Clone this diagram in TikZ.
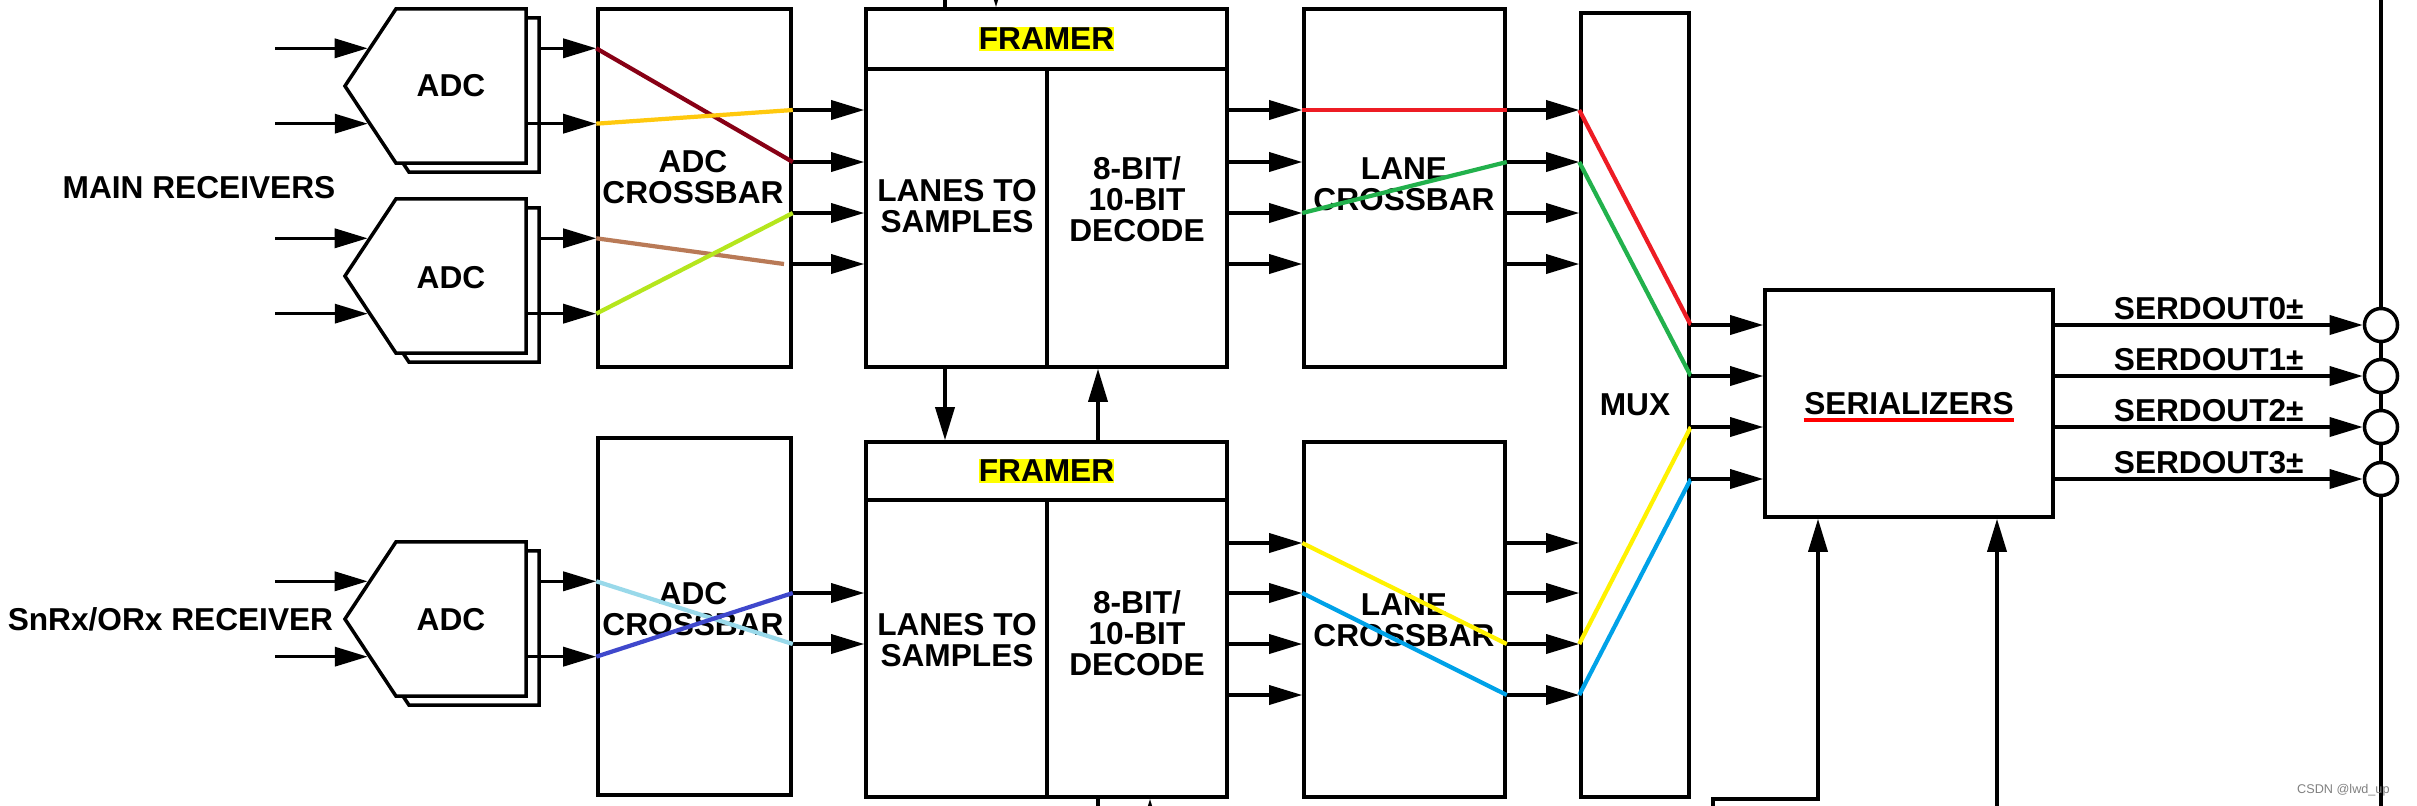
\documentclass[tikz,border=0pt]{standalone}
\usepackage{fontspec}
\setmainfont{Liberation Sans}
\usetikzlibrary{arrows.meta,positioning,shapes.symbols,fit}
\definecolor{dred}{RGB}{136,0,21}
\definecolor{gold}{RGB}{255,201,14}
\definecolor{cbrown}{RGB}{185,122,87}
\definecolor{lime}{RGB}{181,230,29}
\definecolor{lblue}{RGB}{153,217,234}
\definecolor{indigo}{RGB}{63,72,204}
\definecolor{lred}{RGB}{237,28,36}
\definecolor{lgreen}{RGB}{34,177,76}
\definecolor{lyellow}{RGB}{255,242,0}
\definecolor{lcyan}{RGB}{0,162,232}
\definecolor{hl}{RGB}{255,255,0}
\definecolor{ulred}{RGB}{255,0,0}
\begin{document}
\begin{tikzpicture}[
    x=0.01cm,y=-0.01cm,
    box/.style={draw,line width=1pt,fill=white,inner sep=0pt},
    adc/.style={draw,line width=1pt,fill=white,signal,signal to=west,signal pointer angle=113,
        minimum width=1.81cm,minimum height=1.54cm,inner sep=0pt},
    txt/.style={font=\fontsize{9}{8.8}\selectfont\bfseries,align=center,inner sep=0pt},
    wire/.style={line width=1pt},
    lane/.style={line width=1.2pt},
    pin/.style={draw,line width=1pt,fill=white,circle,minimum size=0.33cm,inner sep=0pt},
    >={Triangle[length=0.33cm,width=0.19cm]}
]
\useasboundingbox (0,0) rectangle (2417,805);

\node[adc] (adc1b) at (474,95) {};
\node[adc] (adc1) at (461,86) {};
\node[txt] (adc1t) at (451,86) {ADC};
\node[adc] (adc2b) at (474,285) {};
\node[adc] (adc2) at (461,276) {};
\node[txt] (adc2t) at (451,278) {ADC};
\node[adc] (adc3b) at (474,628) {};
\node[adc] (adc3) at (461,619) {};
\node[txt] (adc3t) at (451,620) {ADC};
\node[txt,anchor=east] (mainrx) at (336,188) {MAIN RECEIVERS};
\node[txt,left=0.09cm of adc3] (obsrx) {SnRx/ORx RECEIVER};

\node[box,fit={(598,9)(791,367)}] (xbar1) {};
\node[txt] (xbar1t) at (693,177) {ADC\\CROSSBAR};
\node[box,fit={(598,438)(791,795)}] (xbar2) {};
\node[txt] (xbar2t) at (693,609) {ADC\\CROSSBAR};

\node[box,fit={(866,9)(1227,69)}] (fr1h) {};
\node[box,fit={(866,69)(1047,367)}] (fr1a) {};
\node[box,fit={(1047,69)(1227,367)}] (fr1b) {};
\node[txt,fill=hl,inner ysep=0.3pt] (fr1t) at (fr1h) {FRAMER};
\node[txt] (fr1at) at (957,206) {LANES TO\\SAMPLES};
\node[txt] (fr1bt) at (1137,199) {8-BIT/\\10-BIT\\DECODE};
\node[box,fit={(866,442)(1227,500)}] (fr2h) {};
\node[box,fit={(866,500)(1047,797)}] (fr2a) {};
\node[box,fit={(1047,500)(1227,797)}] (fr2b) {};
\node[txt,fill=hl,inner ysep=0.3pt] (fr2t) at (fr2h) {FRAMER};
\node[txt] (fr2at) at (957,640) {LANES TO\\SAMPLES};
\node[txt] (fr2bt) at (1137,633) {8-BIT/\\10-BIT\\DECODE};

\node[box,fit={(1304,9)(1505,367)}] (lx1) {};
\node[txt] (lx1t) at (1404,184) {LANE\\CROSSBAR};
\node[box,fit={(1304,442)(1505,797)}] (lx2) {};
\node[txt] (lx2t) at (1404,620) {LANE\\CROSSBAR};

\node[box,fit={(1581,13)(1689,797)}] (mux) {};
\node[txt] (muxt) at (mux) {MUX};
\node[box,fit={(1765,290)(2053,517)}] (ser) {};
\node[txt] (sert) at (ser) {SERIALIZERS};
\draw[ulred,line width=1.2pt] ([yshift=-1.3pt]sert.south west) -- ([yshift=-1.3pt]sert.south east);

\node[pin] (pin0) at (2381,325) {};
\node[pin] (pin1) at (2381,376) {};
\node[pin] (pin2) at (2381,427) {};
\node[pin] (pin3) at (2381,479) {};
\draw[wire] (2381,-20) -- (pin0) -- (pin1) -- (pin2) -- (pin3) -- (2381,830);

\draw[wire,<-] (adc1.158) -- ++(-93,0);
\draw[wire,<-] (adc1.202) -- ++(-93,0);
\draw[wire,<-] (adc2.158) -- ++(-93,0);
\draw[wire,<-] (adc2.202) -- ++(-93,0);
\draw[wire,<-] (adc3.158) -- ++(-93,0);
\draw[wire,<-] (adc3.202) -- ++(-93,0);
\draw[wire,->] (adc1b.east |- adc1.158) -- (xbar1.west |- adc1.158);
\draw[wire,->] (adc1.east |- adc1.202) -- (xbar1.west |- adc1.202);
\draw[wire,->] (adc2b.east |- adc2.158) -- (xbar1.west |- adc2.158);
\draw[wire,->] (adc2.east |- adc2.202) -- (xbar1.west |- adc2.202);
\draw[wire,->] (adc3b.east |- adc3.158) -- (xbar2.west |- adc3.158);
\draw[wire,->] (adc3.east |- adc3.202) -- (xbar2.west |- adc3.202);

\foreach \y in {110,162,213,264} {
    \draw[wire,->] (xbar1.east |- 0,\y) -- (fr1a.west |- 0,\y);
    \draw[wire,->] (fr1b.east |- 0,\y) -- (lx1.west |- 0,\y);
    \draw[wire,->] (lx1.east |- 0,\y) -- (mux.west |- 0,\y);
}
\foreach \y in {593,644} \draw[wire,->] (xbar2.east |- 0,\y) -- (fr2a.west |- 0,\y);
\foreach \y in {543,593,644,695} {
    \draw[wire,->] (fr2b.east |- 0,\y) -- (lx2.west |- 0,\y);
    \draw[wire,->] (lx2.east |- 0,\y) -- (mux.west |- 0,\y);
}

\draw[wire,->] (fr1a.south -| 945,0) -- (fr2h.north -| 945,0);
\draw[wire,->] (fr2h.north -| 1098,0) -- (fr1b.south -| 1098,0);
\draw[wire] (fr1h.north -| 945,0) -- ++(0,-40);
\draw[wire,<-] (fr1h.north -| 996,0) -- ++(0,-40);
\draw[wire] (fr2b.south -| 1098,0) -- ++(0,40);
\draw[wire,<-] (fr2b.south -| 1150,0) -- ++(0,40);

\draw[lane,dred] (xbar1.west |- adc1.158) -- (xbar1.east |- 0,162);
\draw[lane,gold] (xbar1.west |- adc1.202) -- (xbar1.east |- 0,110);
\draw[lane,cbrown] (xbar1.west |- adc2.158) -- (784,264);
\draw[lane,lime] (xbar1.west |- adc2.202) -- (xbar1.east |- 0,213);
\draw[lane,lblue] (xbar2.west |- adc3.158) -- (xbar2.east |- 0,644);
\draw[lane,indigo] (xbar2.west |- adc3.202) -- (xbar2.east |- 0,593);

\draw[lane,lred] (lx1.west |- 0,110) -- (lx1.east |- 0,110);
\draw[lane,lgreen] (lx1.west |- 0,213) -- (lx1.east |- 0,162);
\draw[lane,lyellow] (lx2.west |- 0,543) -- (lx2.east |- 0,644);
\draw[lane,lcyan] (lx2.west |- 0,593) -- (lx2.east |- 0,695);

\draw[lane,lred] (mux.west |- 0,110) -- (mux.east |- pin0);
\draw[lane,lgreen] (mux.west |- 0,162) -- (mux.east |- pin1);
\draw[lane,lyellow] (mux.west |- 0,644) -- (mux.east |- pin2);
\draw[lane,lcyan] (mux.west |- 0,695) -- (mux.east |- pin3);

\draw[wire,->] (mux.east |- pin0) -- (ser.west |- pin0);
\draw[wire,->] (mux.east |- pin1) -- (ser.west |- pin1);
\draw[wire,->] (mux.east |- pin2) -- (ser.west |- pin2);
\draw[wire,->] (mux.east |- pin3) -- (ser.west |- pin3);
\draw[wire,->] (ser.east |- pin0) -- node[txt,above=0.035cm] (so0) {SERDOUT0±} (pin0);
\draw[wire,->] (ser.east |- pin1) -- node[txt,above=0.035cm] (so1) {SERDOUT1±} (pin1);
\draw[wire,->] (ser.east |- pin2) -- node[txt,above=0.035cm] (so2) {SERDOUT2±} (pin2);
\draw[wire,->] (ser.east |- pin3) -- node[txt,above=0.035cm] (so3) {SERDOUT3±} (pin3);

\draw[wire,<-] (ser.south -| 1818,0) |- (mux.south -| 1713,0) -- ++(0,40);
\draw[wire,<-] (ser.south -| 1997,0) -- ++(0,330);

\node[font=\fontsize{3.6}{4}\selectfont,text=gray,anchor=east] (wm) at (2402,790) {CSDN @lwd\_up};
\end{tikzpicture}
\end{document}
